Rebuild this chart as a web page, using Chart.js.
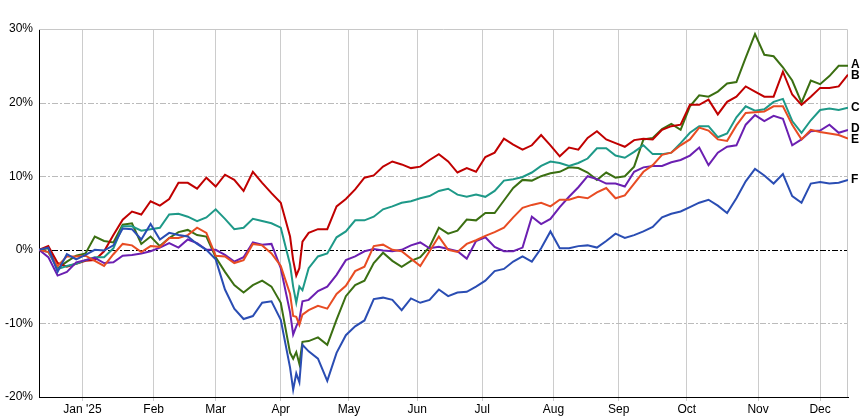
<!DOCTYPE html>
<html><head><meta charset="utf-8">
<script src="https://cdn.jsdelivr.net/npm/chart.js@4/dist/chart.umd.min.js"></script>
<style>html,body{margin:0;padding:0;background:#fff}#wrap{width:862px;height:419px;position:relative}</style>
</head><body><div id="wrap"><canvas id="c" width="862" height="419"></canvas></div>
<script>
// x positions: weekday index counted from 12 Dec 2024
const dayIndex = [0,3,6,9,12,15,18,21,24,27,30,33,36,39,42,45,48,51,54,57,60,63,66,69,72,75,78,81,82,83,84,85,87,90,93,96,99,102,105,108,111,114,117,120,123,126,129,132,135,138,141,144,147,150,153,156,159,162,165,168,171,174,177,180,183,186,189,192,195,198,201,204,207,210,213,216,219,222,225,228,231,234,237,240,243,246,249,252,255,258,261];

const seriesNames = ['A','B','C','D','E','F'];
const seriesColors = ['#3b6f12','#c00000','#1e9988','#6b1fb1','#e84c23','#2a4db3'];

const seriesA = [0,0.2,-2.5,-1.6,-0.8,-0.5,1.8,1.2,1.0,3.4,3.6,0.8,1.8,0.5,1.6,2.4,2.7,2.0,1.8,-1.0,-3.0,-4.8,-5.8,-4.8,-4.2,-5.0,-7.2,
-14.0,-14.8,-13.9,-15.5,-12.5,-12.4,
-11.9,-12.9,-9.5,-6.3,-4.8,-4.2,
-1.8,-0.4,-1.5,-2.3,-1.5,-1.0,0.4,3.0,2.2,2.6,4.1,4.0,5.0,5.0,6.7,8.4,9.5,
9.4,10.0,10.4,10.6,11.2,11.1,10.5,9.5,10.5,9.8,10.0,11.3,15.0,15.2,16.4,17.1,16.3,
19.5,21.0,20.8,21.5,22.6,22.8,26.1,29.3,26.5,26.3,24.8,23.0,20.0,23.0,22.5,23.6,25.0,25.0];

const seriesB = [0,0.5,-1.8,-2.3,-1.9,-1.5,-1.4,-0.2,2.0,4.1,5.2,4.8,6.6,6.0,6.9,9.1,9.1,8.3,9.8,8.6,10.2,9.5,8.0,10.6,9.1,7.7,6.4,
1.8,-1.4,-3.5,-2.5,1.1,2.3,
2.8,2.8,5.9,6.9,8.2,9.8,
10.1,11.3,12.0,11.6,11.1,11.3,12.2,13.0,12.0,10.5,11.1,10.6,12.6,13.2,15.1,14.3,13.6,
14.2,15.6,14.2,12.7,13.9,13.6,15.2,16.1,15.0,14.5,14.0,14.9,15.1,15.0,16.3,16.8,17.0,
19.7,19.7,20.4,18.4,20.1,20.8,22.2,21.5,20.8,20.8,24.2,21.1,19.7,20.8,22.0,22.0,22.2,23.8];

const seriesC = [0,-0.3,-2.6,-2.2,-1.9,-1.4,-1.0,-1.0,0.2,3.2,3.2,2.6,2.8,3.0,4.8,4.9,4.5,3.9,4.4,5.5,4.2,2.8,3.0,4.2,3.9,3.6,3.0,
-2.0,-5.0,-7.2,-5.0,-5.5,-2.5,
-0.9,-0.5,1.7,2.5,4.0,4.0,
4.5,5.5,5.9,6.4,6.6,7.0,7.3,8.0,8.3,7.5,7.2,7.5,7.2,8.0,9.4,9.6,9.9,
10.5,11.4,12.0,11.8,11.4,11.8,12.4,13.8,13.8,12.8,12.5,13.3,14.2,13.0,13.0,13.2,14.5,
15.9,16.8,16.8,15.3,15.8,18.0,19.5,18.9,19.1,20.1,20.5,17.5,15.9,17.6,19.0,19.2,19.0,19.3];

const seriesD = [0,-1.0,-3.5,-3.0,-1.7,-1.4,-1.1,-1.8,-1.7,-0.8,-0.7,-0.5,-0.2,0.3,0.9,0.3,1.4,0.9,0.0,0.0,-0.7,-1.6,-1.0,1.0,0.7,0.8,-2.5,
-8.5,-11.5,-10.4,-9.5,-7.0,-6.8,
-5.6,-5.0,-3.4,-1.4,-0.9,-0.2,
0.1,-0.1,-0.2,0.0,0.6,1.0,0.2,0.4,0.1,-0.2,-1.2,1.2,1.7,0.4,-0.2,-0.2,0.3,
4.5,3.5,4.2,5.8,7.2,8.5,10.0,9.6,9.0,9.0,8.6,10.6,11.2,11.4,11.4,11.9,12.2,
12.8,13.9,11.5,13.2,14.0,14.2,17.0,18.3,17.5,18.2,17.8,14.2,15.0,16.1,16.2,17.0,15.9,16.3];

const seriesE = [0,-0.3,-2.2,-0.9,-0.9,-0.8,-1.5,-2.2,-0.6,0.8,0.6,-0.3,0.5,0.4,1.6,1.6,2.0,3.0,2.3,-0.8,-0.9,-1.8,-1.4,0.8,0.6,-0.5,-2.2,
-6.0,-9.0,-9.1,-10.2,-8.8,-8.2,
-7.6,-8.0,-6.0,-4.9,-2.9,-2.3,
0.5,0.7,0.0,-0.2,-1.2,-2.2,-0.2,1.8,0.0,-0.3,0.8,1.3,1.9,2.4,3.0,4.4,5.7,
6.1,6.4,5.9,6.8,6.8,7.2,7.0,7.8,8.4,7.0,7.4,9.0,10.6,11.5,12.9,13.2,14.2,
15.0,16.6,16.2,15.0,14.8,16.9,18.6,18.7,18.8,19.5,19.5,17.0,15.0,16.3,16.0,15.8,15.6,15.1];

const seriesF = [0,0.3,-3.0,-0.6,-1.3,-0.7,0.0,-0.1,0.6,2.9,2.8,1.4,3.5,1.4,2.3,2.0,1.8,0.8,0.0,-1.3,-5.4,-8.0,-9.4,-9.0,-7.2,-7.0,-9.5,
-16.0,-19.0,-16.8,-18.0,-12.9,-13.8,
-14.8,-17.8,-14.0,-11.6,-10.4,-9.6,
-6.7,-6.5,-6.8,-8.2,-6.6,-7.2,-6.8,-5.4,-6.3,-5.8,-5.7,-5.0,-4.2,-2.9,-2.6,-1.6,-0.9,
-1.6,0.2,2.5,0.2,0.2,0.5,0.6,0.3,1.2,2.2,1.6,2.0,2.5,3.1,4.4,4.9,5.2,
5.8,6.4,6.8,6.0,5.0,7.0,9.3,11.0,10.1,9.0,10.3,7.3,6.4,9.0,9.2,9.0,9.1,9.5];

const monthTickIndex = [14,37,57,78,100,122,143,166,187,209,232,252];
const monthTickLabels = ["Jan '25","Feb","Mar","Apr","May","Jun","Jul","Aug","Sep","Oct","Nov","Dec"];
const yTickValues = [-20,-10,0,10,20,30];

const allSeries = [seriesA,seriesB,seriesC,seriesD,seriesE,seriesF];
const FONT = "'Liberation Sans', Arial, sans-serif";
Chart.defaults.font.family = FONT;
Chart.defaults.font.size = 12;
Chart.defaults.color = '#000';

const decor = {
  id: 'decor',
  beforeDatasetsDraw(chart) {
    const {ctx, chartArea: a, scales: {y}} = chart;
    ctx.save();
    ctx.lineWidth = 1;
    ctx.setLineDash([]);
    ctx.strokeStyle = '#c8c8c8';
    ctx.beginPath();
    ctx.moveTo(a.left, a.top + 0.5);
    ctx.lineTo(a.right - 0.5, a.top + 0.5);
    ctx.lineTo(a.right - 0.5, a.bottom);
    ctx.stroke();
    yTickValues.forEach(v => {
      if (v === yTickValues[0] || v === yTickValues[yTickValues.length - 1]) return;
      const py = Math.round(y.getPixelForValue(v)) + 0.5;
      ctx.strokeStyle = v === 0 ? '#000000' : '#bbbbbb';
      ctx.setLineDash([6, 2, 2, 2]);
      ctx.beginPath();
      ctx.moveTo(a.left + 1, py);
      ctx.lineTo(a.right - 1, py);
      ctx.stroke();
    });
    ctx.restore();
  },
  afterDatasetsDraw(chart) {
    const {ctx, chartArea: a, scales: {y}} = chart;
    const items = allSeries.map((s, i) => ({name: seriesNames[i], py: y.getPixelForValue(s[s.length - 1])}));
    items.sort((p, q) => p.py - q.py);
    const gap = 11;
    for (let iter = 0; iter < 20; iter++) {
      let moved = false;
      for (let i = 1; i < items.length; i++) {
        const d = items[i].py - items[i - 1].py;
        if (d < gap) {
          const m = (items[i].py + items[i - 1].py) / 2;
          items[i - 1].py = m - gap / 2;
          items[i].py = m + gap / 2;
          moved = true;
        }
      }
      if (!moved) break;
    }
    ctx.save();
    ctx.font = 'bold 12px ' + FONT;
    ctx.fillStyle = '#000';
    ctx.textAlign = 'left';
    ctx.textBaseline = 'middle';
    items.forEach(it => ctx.fillText(it.name, a.right + 3, it.py));
    ctx.restore();
  }
};

new Chart(document.getElementById('c'), {
  type: 'line',
  data: {
    datasets: allSeries.map((s, i) => ({
      label: seriesNames[i],
      data: dayIndex.map((x, j) => ({x: x, y: s[j]})),
      borderColor: seriesColors[i],
      backgroundColor: seriesColors[i],
      borderWidth: 2,
      pointRadius: 0,
      tension: 0,
      fill: false,
      order: 6 - i
    }))
  },
  options: {
    responsive: false,
    devicePixelRatio: 1,
    animation: false,
    layout: {padding: {top: 29, right: 14, bottom: 0, left: 0}},
    plugins: {legend: {display: false}, tooltip: {enabled: false}},
    scales: {
      x: {
        type: 'linear', min: 0, max: 261,
        afterBuildTicks: s => { s.ticks = monthTickIndex.map(v => ({value: v})); },
        afterFit: s => { s.height = 22; },
        grid: {display: true, color: '#cccccc', lineWidth: 1, drawTicks: true, tickLength: 4, tickColor: '#cccccc'},
        border: {display: true, color: '#000', width: 1},
        ticks: {autoSkip: false, maxRotation: 0, minRotation: 0, padding: 1, color: '#000',
          callback: (v, i) => monthTickLabels[i]}
      },
      y: {
        min: -20, max: 30,
        afterBuildTicks: s => { s.ticks = yTickValues.map(v => ({value: v})); },
        afterFit: s => { s.width = 39; },
        grid: {display: false, drawTicks: false},
        border: {display: true, color: '#000', width: 1},
        ticks: {padding: 6, color: '#000', callback: v => v + '%'}
      }
    }
  },
  plugins: [decor]
});
</script>
</body></html>
